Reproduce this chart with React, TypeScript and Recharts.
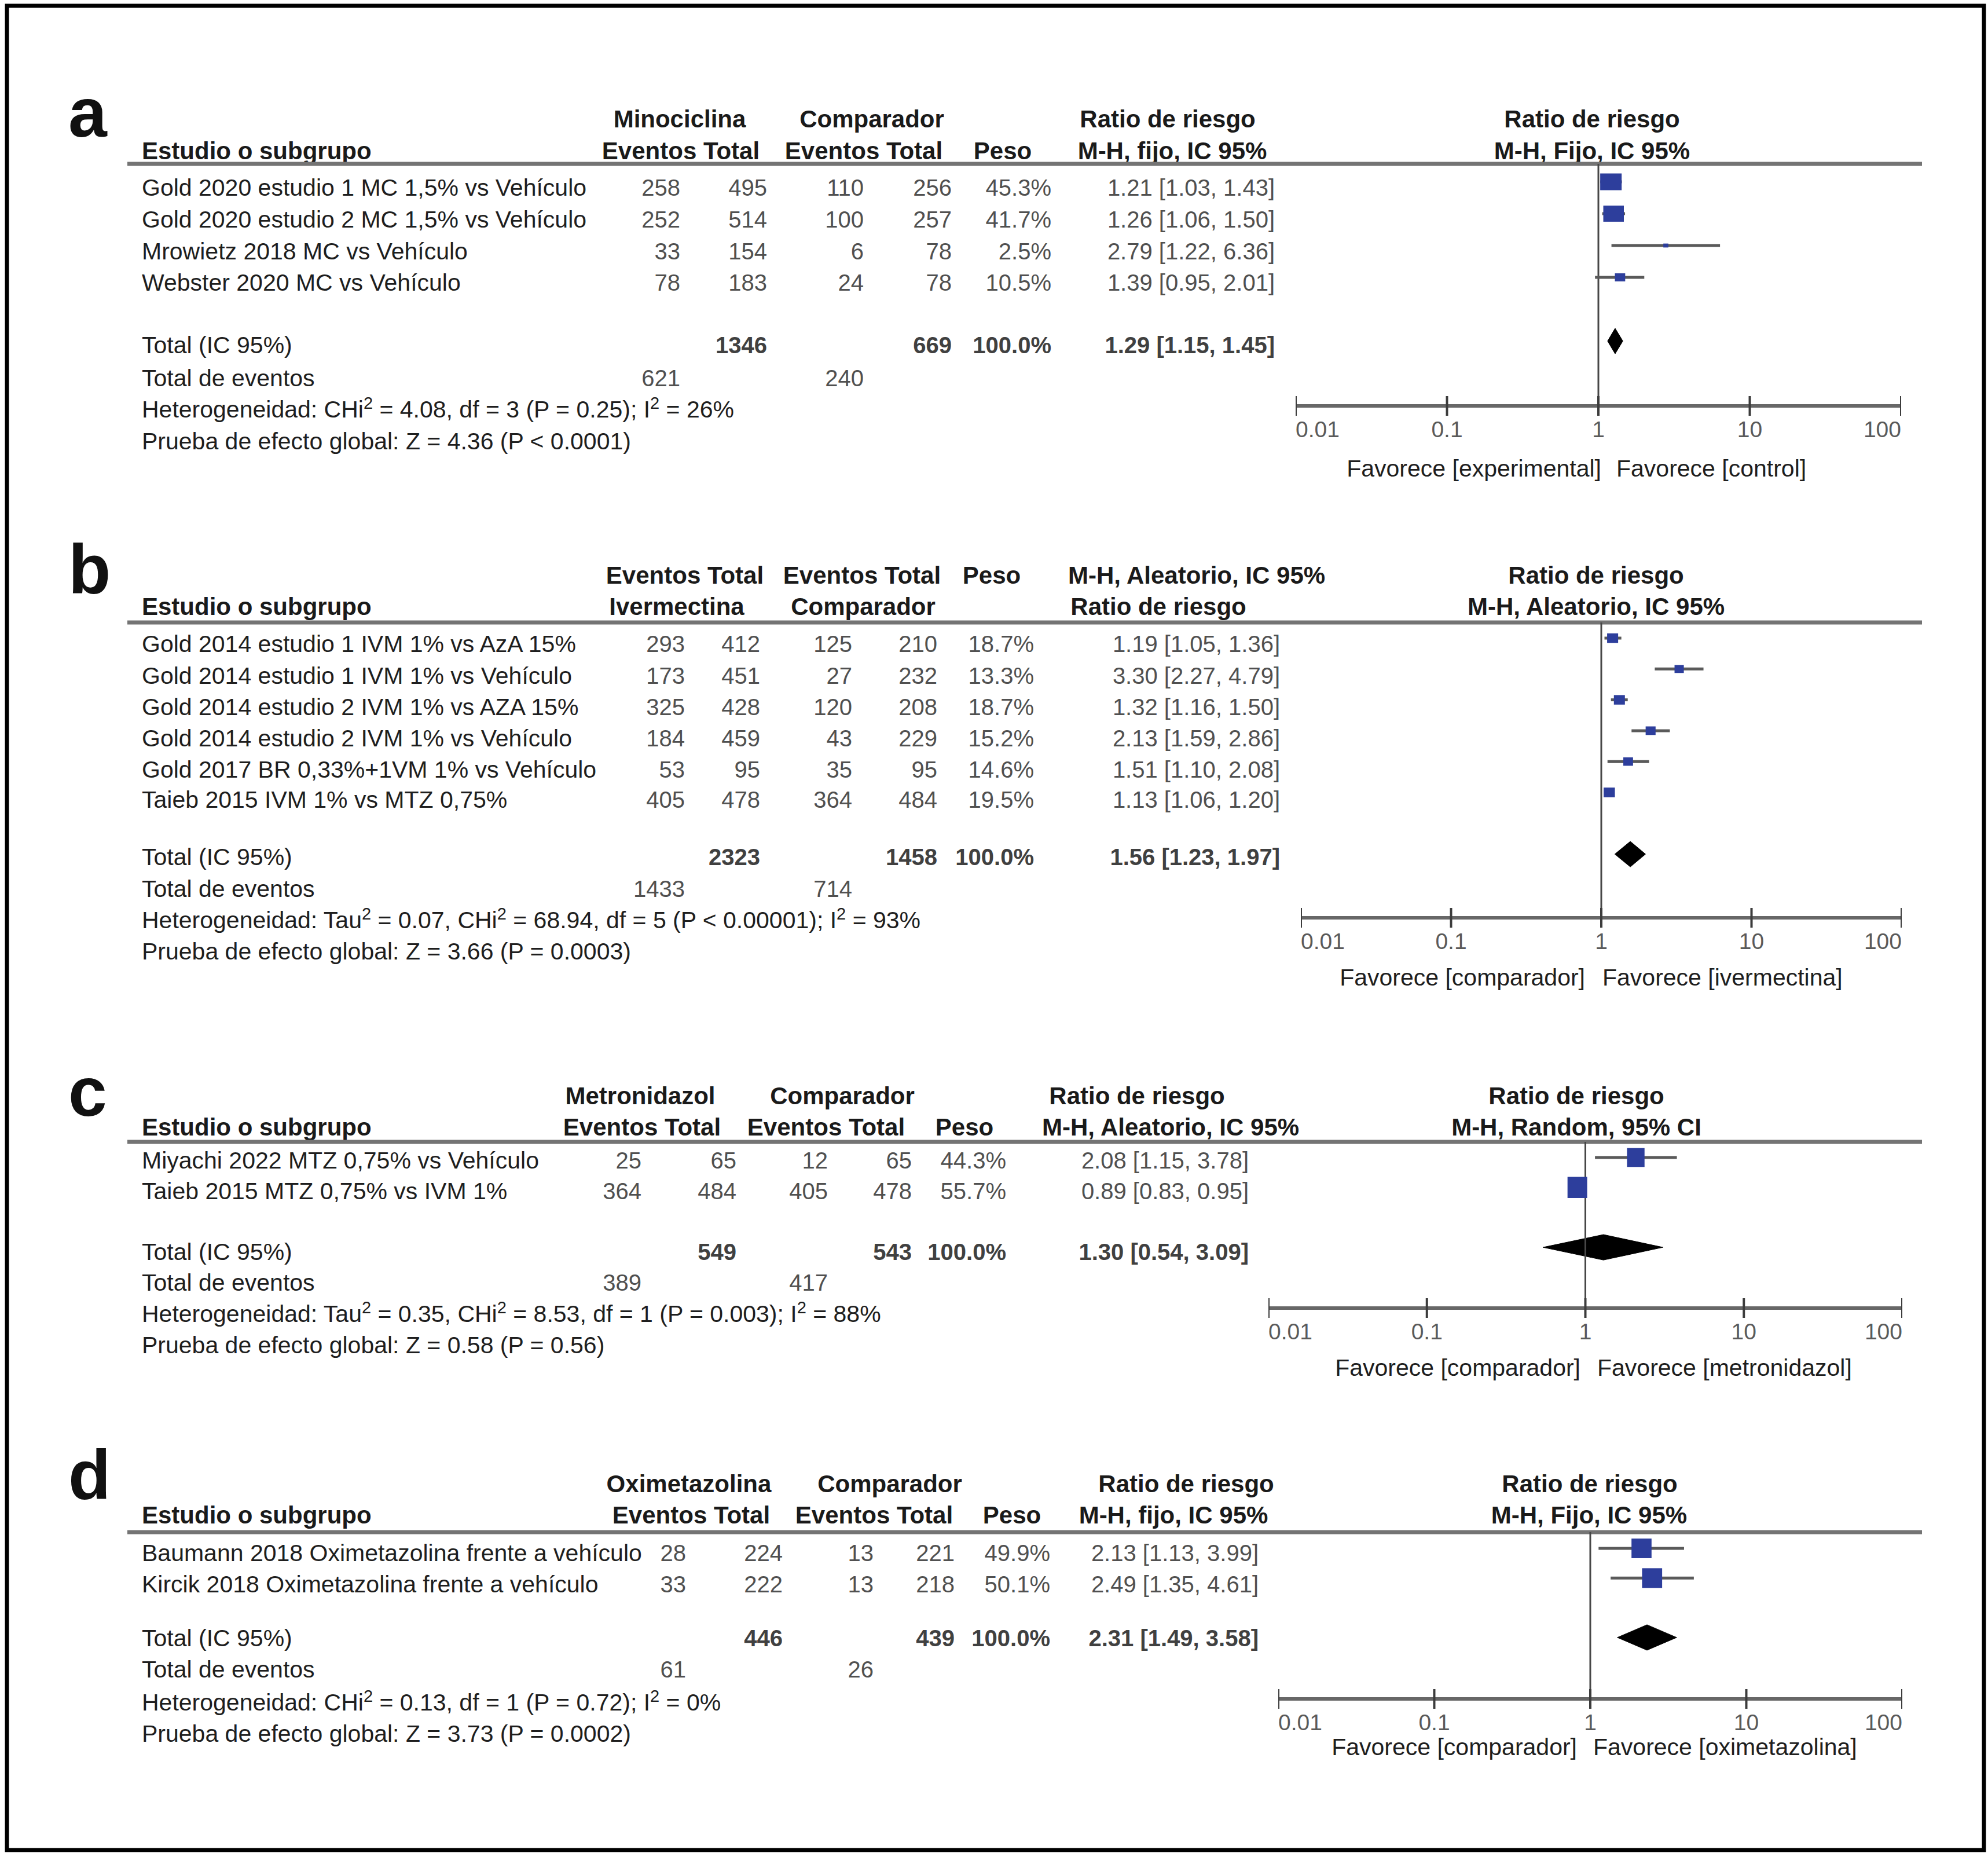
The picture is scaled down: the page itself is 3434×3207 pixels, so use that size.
import React from 'react';
import { ComposedChart, XAxis, YAxis, Scatter, ErrorBar, Area, ReferenceLine } from 'recharts';

if (typeof document !== 'undefined') {
  document.body.style.margin = '0';
}

const FONT = "'Liberation Sans', Arial, Helvetica, sans-serif";
const TICKS = [0.01, 0.1, 1, 10, 100];

// ---------------- Panel a: Minociclina ----------------
const studiesA = [
  'Gold 2020 estudio 1 MC 1,5% vs Vehículo',
  'Gold 2020 estudio 2 MC 1,5% vs Vehículo',
  'Mrowietz 2018 MC vs Vehículo',
  'Webster 2020 MC vs Vehículo',
];
const evTrtA = [258, 252, 33, 78];
const totTrtA = [495, 514, 154, 183];
const evCtlA = [110, 100, 6, 24];
const totCtlA = [256, 257, 78, 78];
const weightA = [45.3, 41.7, 2.5, 10.5];
const rrA = [1.21, 1.26, 2.79, 1.39];
const loA = [1.03, 1.06, 1.22, 0.95];
const hiA = [1.43, 1.5, 6.36, 2.01];
const totalsA = [1346, 669];
const pooledA = [1.29, 1.15, 1.45];
const eventsSumA = [621, 240];
const hetA = ['Heterogeneidad: CHi', '2', ' = 4.08, df = 3 (P = 0.25); I', '2', ' = 26%'];
const testA = 'Prueba de efecto global: Z = 4.36 (P < 0.0001)';
const head1A = ['Minociclina', 'Comparador', 'Ratio de riesgo', 'Ratio de riesgo'];
const head2A = ['Eventos Total', 'Eventos Total', 'Peso', 'M-H, fijo, IC 95%', 'M-H, Fijo, IC 95%'];
const favA = ['Favorece [experimental]', 'Favorece [control]'];

// ---------------- Panel b: Ivermectina ----------------
const studiesB = [
  'Gold 2014 estudio 1 IVM 1% vs AzA 15%',
  'Gold 2014 estudio 1 IVM 1% vs Vehículo',
  'Gold 2014 estudio 2 IVM 1% vs AZA 15%',
  'Gold 2014 estudio 2 IVM 1% vs Vehículo',
  'Gold 2017 BR 0,33%+1VM 1% vs Vehículo',
  'Taieb 2015 IVM 1% vs MTZ 0,75%',
];
const evTrtB = [293, 173, 325, 184, 53, 405];
const totTrtB = [412, 451, 428, 459, 95, 478];
const evCtlB = [125, 27, 120, 43, 35, 364];
const totCtlB = [210, 232, 208, 229, 95, 484];
const weightB = [18.7, 13.3, 18.7, 15.2, 14.6, 19.5];
const rrB = [1.19, 3.3, 1.32, 2.13, 1.51, 1.13];
const loB = [1.05, 2.27, 1.16, 1.59, 1.1, 1.06];
const hiB = [1.36, 4.79, 1.5, 2.86, 2.08, 1.2];
const totalsB = [2323, 1458];
const pooledB = [1.56, 1.23, 1.97];
const eventsSumB = [1433, 714];
const hetB = ['Heterogeneidad: Tau', '2', ' = 0.07, CHi', '2', ' = 68.94, df = 5 (P < 0.00001); I', '2', ' = 93%'];
const testB = 'Prueba de efecto global: Z = 3.66 (P = 0.0003)';
const head1B = ['Eventos Total', 'Eventos Total', 'Peso', 'M-H, Aleatorio, IC 95%', 'Ratio de riesgo'];
const head2B = ['Ivermectina', 'Comparador', 'Ratio de riesgo', 'M-H, Aleatorio, IC 95%'];
const favB = ['Favorece [comparador]', 'Favorece [ivermectina]'];

// ---------------- Panel c: Metronidazol ----------------
const studiesC = ['Miyachi 2022 MTZ 0,75% vs Vehículo', 'Taieb 2015 MTZ 0,75% vs IVM 1%'];
const evTrtC = [25, 364];
const totTrtC = [65, 484];
const evCtlC = [12, 405];
const totCtlC = [65, 478];
const weightC = [44.3, 55.7];
const rrC = [2.08, 0.89];
const loC = [1.15, 0.83];
const hiC = [3.78, 0.95];
const totalsC = [549, 543];
const pooledC = [1.3, 0.54, 3.09];
const eventsSumC = [389, 417];
const hetC = ['Heterogeneidad: Tau', '2', ' = 0.35, CHi', '2', ' = 8.53, df = 1 (P = 0.003); I', '2', ' = 88%'];
const testC = 'Prueba de efecto global: Z = 0.58 (P = 0.56)';
const head1C = ['Metronidazol', 'Comparador', 'Ratio de riesgo', 'Ratio de riesgo'];
const head2C = ['Eventos Total', 'Eventos Total', 'Peso', 'M-H, Aleatorio, IC 95%', 'M-H, Random, 95% CI'];
const favC = ['Favorece [comparador]', 'Favorece [metronidazol]'];

// ---------------- Panel d: Oximetazolina ----------------
const studiesD = ['Baumann 2018 Oximetazolina frente a vehículo', 'Kircik 2018 Oximetazolina frente a vehículo'];
const evTrtD = [28, 33];
const totTrtD = [224, 222];
const evCtlD = [13, 13];
const totCtlD = [221, 218];
const weightD = [49.9, 50.1];
const rrD = [2.13, 2.49];
const loD = [1.13, 1.35];
const hiD = [3.99, 4.61];
const totalsD = [446, 439];
const pooledD = [2.31, 1.49, 3.58];
const eventsSumD = [61, 26];
const hetD = ['Heterogeneidad: CHi', '2', ' = 0.13, df = 1 (P = 0.72); I', '2', ' = 0%'];
const testD = 'Prueba de efecto global: Z = 3.73 (P = 0.0002)';
const head1D = ['Oximetazolina', 'Comparador', 'Ratio de riesgo', 'Ratio de riesgo'];
const head2D = ['Eventos Total', 'Eventos Total', 'Peso', 'M-H, fijo, IC 95%', 'M-H, Fijo, IC 95%'];
const favD = ['Favorece [comparador]', 'Favorece [oximetazolina]'];

const panels = [
  { label: 'a', studies: studiesA, evT: evTrtA, totT: totTrtA, evC: evCtlA, totC: totCtlA, weight: weightA, rr: rrA, lo: loA, hi: hiA, totals: totalsA, pooled: pooledA, evSum: eventsSumA, het: hetA, test: testA, head1: head1A, head2: head2A, fav: favA },
  { label: 'b', studies: studiesB, evT: evTrtB, totT: totTrtB, evC: evCtlB, totC: totCtlB, weight: weightB, rr: rrB, lo: loB, hi: hiB, totals: totalsB, pooled: pooledB, evSum: eventsSumB, het: hetB, test: testB, head1: head1B, head2: head2B, fav: favB },
  { label: 'c', studies: studiesC, evT: evTrtC, totT: totTrtC, evC: evCtlC, totC: totCtlC, weight: weightC, rr: rrC, lo: loC, hi: hiC, totals: totalsC, pooled: pooledC, evSum: eventsSumC, het: hetC, test: testC, head1: head1C, head2: head2C, fav: favC },
  { label: 'd', studies: studiesD, evT: evTrtD, totT: totTrtD, evC: evCtlD, totC: totCtlD, weight: weightD, rr: rrD, lo: loD, hi: hiD, totals: totalsD, pooled: pooledD, evSum: eventsSumD, het: hetD, test: testD, head1: head1D, head2: head2D, fav: favD },
];

// ---------------- Layout (positions/sizes only) ----------------
const layouts = [
  {
    labelY: 236, headY: [220, 275], headerLine: 283,
    head1X: [1174, 1506, 2017, 2750], head2X: [1176, 1492, 1732, 2025, 2750],
    cols: [1175, 1325, 1492, 1644, 1816, 2202],
    rowY: [338, 393, 448, 502], totY: 610, evY: 667, hetY: 721, testY: 776,
    x001: 2238, x100: 3284, axisY: 701, sq1: 314, spacing: 55, kw: 5.5, kh: 4.3,
    favY: 823, favL: 2766, favR: 2792,
  },
  {
    labelY: 1025, headY: [1008, 1062], headerLine: 1075,
    head1X: [1183, 1489, 1713, 2067, 2757], head2X: [1169, 1491, 2001, 2757],
    cols: [1183, 1313, 1472, 1619, 1786, 2211],
    rowY: [1126, 1181, 1235, 1289, 1343, 1395], totY: 1494, evY: 1549, hetY: 1603, testY: 1657,
    x001: 2247, x100: 3285, axisY: 1585, sq1: 1102, spacing: 53.3, kw: 4.4, kh: 3.8,
    favY: 1702, favL: 2738, favR: 2768,
  },
  {
    labelY: 1927, headY: [1907, 1961], headerLine: 1972,
    head1X: [1106, 1455, 1964, 2723], head2X: [1109, 1427, 1666, 2022, 2723],
    cols: [1108, 1272, 1430, 1575, 1738, 2157],
    rowY: [2018, 2071], totY: 2176, evY: 2229, hetY: 2283, testY: 2337,
    x001: 2191, x100: 3286, axisY: 2259, sq1: 1999, spacing: 51.7, kw: 4.55, kh: 4.9,
    favY: 2376, favL: 2730, favR: 2759,
  },
  {
    labelY: 2589, headY: [2577, 2631], headerLine: 2646,
    head1X: [1190, 1537, 2049, 2746], head2X: [1194, 1510, 1748, 2027, 2745],
    cols: [1185, 1352, 1509, 1649, 1814, 2174],
    rowY: [2696, 2750], totY: 2843, evY: 2897, hetY: 2954, testY: 3008,
    x001: 2208, x100: 3286, axisY: 2934, sq1: 2674, spacing: 51.3, kw: 4.9, kh: 4.8,
    favY: 3031, favL: 2724, favR: 2752,
  },
];

const fmtRR = (r: number, l: number, h: number) => `${r.toFixed(2)} [${l.toFixed(2)}, ${h.toFixed(2)}]`;

const TXT = '#1e1e1e';
const NUM = '#505050';
const FS = 41;

function Het({ x, y, segs }: { x: number; y: number; segs: string[] }) {
  return (
    <text x={x} y={y} fontSize={FS} fill={TXT} fontFamily={FONT}>
      {segs.map((s, i) =>
        i % 2 === 1 ? (
          <tspan key={i} dy={-15} fontSize={29}>{s}</tspan>
        ) : (
          <tspan key={i} dy={i === 0 ? 0 : 15}>{s}</tspan>
        )
      )}
    </text>
  );
}

function Table({ p, L }: any) {
  const num = (v: any, x: number, y: number, bold = false, key?: any) => (
    <text key={key} x={x} y={y} textAnchor="end" fontSize={40} fill={bold ? '#404040' : NUM} fontWeight={bold ? 'bold' : 'normal'} fontFamily={FONT}>
      {v}
    </text>
  );
  return (
    <g>
      <text x={118} y={L.labelY} fontSize={120} fontWeight="bold" fill="#111" fontFamily={FONT}>{p.label}</text>
      {p.head1.map((t: string, i: number) => (
        <text key={'h1' + i} x={L.head1X[i]} y={L.headY[0]} textAnchor="middle" fontSize={42} fontWeight="bold" fill="#1a1a1a" fontFamily={FONT}>{t}</text>
      ))}
      {p.head2.map((t: string, i: number) => (
        <text key={'h2' + i} x={L.head2X[i]} y={L.headY[1]} textAnchor="middle" fontSize={42} fontWeight="bold" fill="#1a1a1a" fontFamily={FONT}>{t}</text>
      ))}
      <text x={245} y={L.headY[1]} fontSize={42} fontWeight="bold" fill="#1a1a1a" fontFamily={FONT}>Estudio o subgrupo</text>
      <line x1={220} x2={3320} y1={L.headerLine} y2={L.headerLine} stroke="#747474" strokeWidth={7} />
      {p.studies.map((s: string, i: number) => (
        <g key={'r' + i}>
          <text x={245} y={L.rowY[i]} fontSize={FS} fill={TXT} fontFamily={FONT}>{s}</text>
          {num(p.evT[i], L.cols[0], L.rowY[i])}
          {num(p.totT[i], L.cols[1], L.rowY[i])}
          {num(p.evC[i], L.cols[2], L.rowY[i])}
          {num(p.totC[i], L.cols[3], L.rowY[i])}
          {num(p.weight[i].toFixed(1) + '%', L.cols[4], L.rowY[i])}
          {num(fmtRR(p.rr[i], p.lo[i], p.hi[i]), L.cols[5], L.rowY[i])}
        </g>
      ))}
      <text x={245} y={L.totY} fontSize={FS} fill={TXT} fontFamily={FONT}>Total (IC 95%)</text>
      {num(p.totals[0], L.cols[1], L.totY, true)}
      {num(p.totals[1], L.cols[3], L.totY, true)}
      {num('100.0%', L.cols[4], L.totY, true)}
      {num(fmtRR(p.pooled[0], p.pooled[1], p.pooled[2]), L.cols[5], L.totY, true)}
      <text x={245} y={L.evY} fontSize={FS} fill={TXT} fontFamily={FONT}>Total de eventos</text>
      {num(p.evSum[0], L.cols[0], L.evY)}
      {num(p.evSum[1], L.cols[2], L.evY)}
      <Het x={245} y={L.hetY} segs={p.het} />
      <text x={245} y={L.testY} fontSize={FS} fill={TXT} fontFamily={FONT}>{p.test}</text>
      <text x={L.favL} y={L.favY} textAnchor="end" fontSize={FS} fill={TXT} fontFamily={FONT}>{p.fav[0]}</text>
      <text x={L.favR} y={L.favY} textAnchor="start" fontSize={FS} fill={TXT} fontFamily={FONT}>{p.fav[1]}</text>
    </g>
  );
}

const AxisTick = (props: any) => {
  const { x, y, payload } = props;
  const v = payload.value;
  const anchor = v === TICKS[0] ? 'start' : v === TICKS[TICKS.length - 1] ? 'end' : 'middle';
  return (
    <g>
      <line x1={x} x2={x} y1={y - 17} y2={y + 17} stroke="#3c3c3c" strokeWidth={4} />
      <text x={x} y={y + 54} textAnchor={anchor} fontSize={39} fill="#5a5a5a" fontFamily={FONT}>{String(v)}</text>
    </g>
  );
};

function Forest({ p, L }: any) {
  const n = p.studies.length;
  const pts = p.rr.map((r: number, i: number) => ({
    x: r,
    y: i + 1,
    w: p.weight[i],
    err: [r - p.lo[i], p.hi[i] - r],
  }));
  const ty = n + 2;
  const h = 22 / L.spacing;
  const diamond = [
    { x: p.pooled[1], r: [ty, ty] },
    { x: p.pooled[0], r: [ty - h, ty + h] },
    { x: p.pooled[2], r: [ty, ty] },
  ];
  const yMin = 1 - (L.sq1 - L.headerLine) / L.spacing;
  const yMax = 1 + (L.axisY - L.sq1) / L.spacing;
  const width = L.x100 - L.x001;
  const axisH = 90;
  const height = L.axisY - L.headerLine + axisH;
  const shape = (props: any) => {
    const { cx, cy, payload } = props;
    const w = L.kw * Math.sqrt(payload.w);
    const hh = L.kh * Math.sqrt(payload.w);
    return <rect x={cx - w / 2} y={cy - hh / 2} width={w} height={hh} fill="#2d3e9c" />;
  };
  return (
    <div style={{ position: 'absolute', left: L.x001, top: L.headerLine, width, height }}>
      <ComposedChart width={width} height={height} margin={{ top: 0, right: 0, bottom: 0, left: 0 }} style={{ overflow: 'visible' }}>
        <XAxis
          type="number"
          dataKey="x"
          scale="log"
          domain={[0.01, 100]}
          ticks={TICKS}
          interval={0}
          allowDataOverflow
          height={axisH}
          tickLine={false}
          tickSize={0}
          tickMargin={0}
          axisLine={{ stroke: '#676767', strokeWidth: 6 }}
          tick={AxisTick}
        />
        <YAxis type="number" dataKey="y" hide domain={[yMin, yMax]} reversed allowDataOverflow />
        <ReferenceLine x={1} stroke="#474747" strokeWidth={3} />
        <Area
          data={diamond}
          dataKey="r"
          type="linear"
          stroke="#000"
          strokeWidth={1}
          fill="#000"
          fillOpacity={1}
          dot={false}
          activeDot={false}
          isAnimationActive={false}
        />
        <Scatter data={pts} shape={shape} isAnimationActive={false}>
          <ErrorBar dataKey="err" direction="x" width={0} stroke="#5a5a5a" strokeWidth={5} isAnimationActive={false} />
        </Scatter>
      </ComposedChart>
    </div>
  );
}

export default function App() {
  return (
    <div style={{ position: 'relative', width: 3434, height: 3207, background: '#fff', overflow: 'hidden' }}>
      <svg width={3434} height={3207} style={{ position: 'absolute', left: 0, top: 0 }}>
        <rect x={12} y={10} width={3415} height={3185} fill="none" stroke="#000" strokeWidth={7} />
        {panels.map((p, i) => (
          <Table key={i} p={p} L={layouts[i]} />
        ))}
      </svg>
      {panels.map((p, i) => (
        <Forest key={'f' + i} p={p} L={layouts[i]} />
      ))}
    </div>
  );
}
